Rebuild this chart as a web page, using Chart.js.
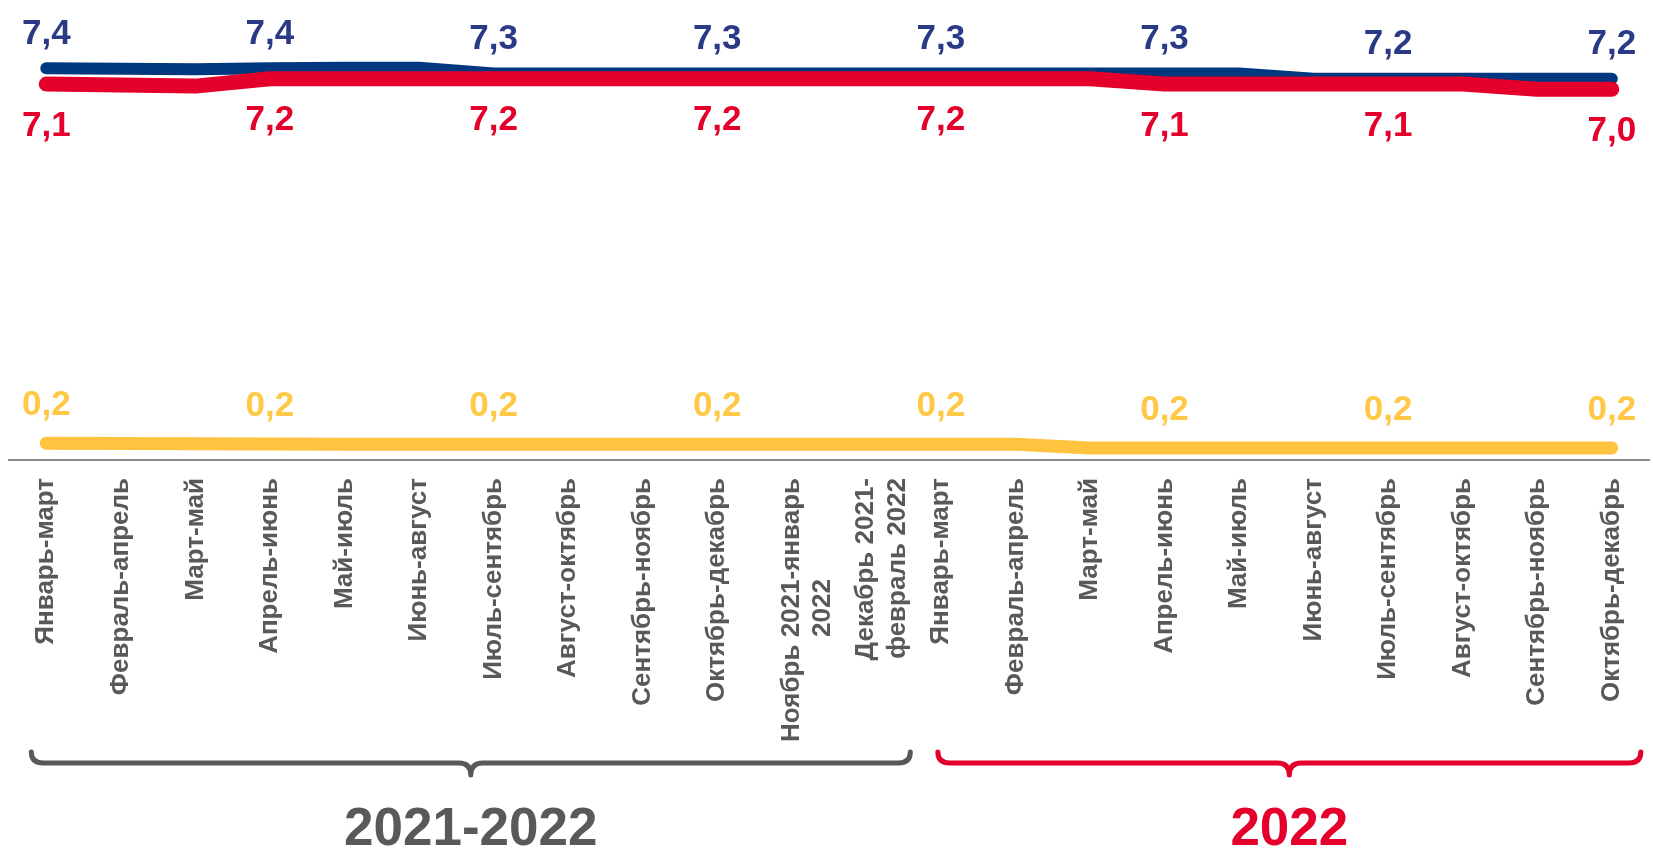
<!DOCTYPE html>
<html lang="ru">
<head>
<meta charset="utf-8">
<script src="https://cdn.jsdelivr.net/npm/chart.js@4.4.1/dist/chart.umd.min.js"></script>
<style>
  html, body { margin: 0; padding: 0; background: #fff; }
  #quadro { width: 1653px; height: 851px; position: relative; }
</style>
</head>
<body>
<div id="quadro"><canvas id="grafico"></canvas></div>
<script>
// Периоды (скользящие три месяца)
const periodos = [
  'Январь-март', 'Февраль-апрель', 'Март-май', 'Апрель-июнь', 'Май-июль', 'Июнь-август',
  'Июль-сентябрь', 'Август-октябрь', 'Сентябрь-ноябрь', 'Октябрь-декабрь',
  ['Ноябрь 2021-январь', '2022'], ['Декабрь 2021-', 'февраль 2022'],
  'Январь-март', 'Февраль-апрель', 'Март-май', 'Апрель-июнь', 'Май-июль', 'Июнь-август',
  'Июль-сентябрь', 'Август-октябрь', 'Сентябрь-ноябрь', 'Октябрь-декабрь'
];

const serieAzul = [7.38, 7.37, 7.36, 7.38, 7.39, 7.39, 7.28, 7.28, 7.28, 7.28, 7.28,
                   7.28, 7.28, 7.28, 7.28, 7.28, 7.28, 7.18, 7.18, 7.18, 7.18, 7.18];
const serieVermelha = [7.08, 7.06, 7.04, 7.18, 7.18, 7.18, 7.18, 7.18, 7.18, 7.18, 7.18,
                       7.18, 7.18, 7.18, 7.18, 7.08, 7.08, 7.08, 7.08, 7.08, 6.98, 6.98];
const serieAmarela = [0.24, 0.235, 0.23, 0.225, 0.22, 0.22, 0.22, 0.22, 0.22, 0.22, 0.22,
                      0.22, 0.22, 0.22, 0.15, 0.15, 0.15, 0.15, 0.15, 0.15, 0.15, 0.15];

// Группы периодов под осью
const grupos = ['2021-2022', '2022'];
const gruposInicio = [0, 12];
const gruposFim = [11, 21];

const passoRotulo = 3;
const fonte = '"Liberation Sans", Arial, sans-serif';
const cinza = '#595959';
const vermelho = '#E4002B';

function formatar(v) {
  return (Math.round(v * 10) / 10).toFixed(1).replace('.', ',');
}

// центрируем строки многострочной подписи (подпись повёрнута и выровнена по краю)
const medidor = document.createElement('canvas').getContext('2d');
medidor.font = 'bold 26px ' + fonte;
function centralizarLinhas(rotulo) {
  if (!Array.isArray(rotulo)) return rotulo;
  const larguras = rotulo.map(l => medidor.measureText(l).width);
  const maior = Math.max(...larguras);
  const espaco = medidor.measureText(' ').width;
  return rotulo.map((l, k) => l + ' '.repeat(Math.round((maior - larguras[k]) / 2 / espaco)));
}

const rotulosPlugin = {
  id: 'rotulos',
  afterDatasetsDraw(chart) {
    const ctx = chart.ctx;
    chart.data.datasets.forEach((ds, di) => {
      const meta = chart.getDatasetMeta(di);
      meta.data.forEach((pt, i) => {
        if (i % passoRotulo !== 0) return;
        ctx.save();
        ctx.font = 'bold 35px ' + fonte;
        ctx.fillStyle = ds.corRotulo;
        ctx.textAlign = 'center';
        ctx.textBaseline = 'middle';
        ctx.fillText(formatar(ds.data[i]), pt.x, pt.y + ds.deslocRotulo);
        ctx.restore();
      });
    });
  }
};

// фигурные скобки и годы под подписями оси
const margensChave = [[-15, 44], [-3, 29]];
const coresGrupo = [cinza, vermelho];

function chave(ctx, x0, x1, yTopo, yBarra, yPonta, r) {
  const xm = (x0 + x1) / 2;
  ctx.beginPath();
  ctx.moveTo(x0, yTopo);
  ctx.quadraticCurveTo(x0, yBarra, x0 + r, yBarra);
  ctx.lineTo(xm - r, yBarra);
  ctx.quadraticCurveTo(xm, yBarra, xm, yPonta);
  ctx.moveTo(xm, yPonta);
  ctx.quadraticCurveTo(xm, yBarra, xm + r, yBarra);
  ctx.lineTo(x1 - r, yBarra);
  ctx.quadraticCurveTo(x1, yBarra, x1, yTopo);
  ctx.stroke();
}

const chavesPlugin = {
  id: 'chaves',
  afterDraw(chart) {
    const ctx = chart.ctx;
    const x = chart.scales.x;
    grupos.forEach((g, k) => {
      const x0 = x.getPixelForValue(gruposInicio[k]) + margensChave[k][0];
      const x1 = x.getPixelForValue(gruposFim[k]) + margensChave[k][1];
      ctx.save();
      ctx.strokeStyle = coresGrupo[k];
      ctx.lineWidth = 5;
      ctx.lineCap = 'round';
      ctx.lineJoin = 'round';
      chave(ctx, x0, x1, 752, 763, 775, 12);
      ctx.fillStyle = coresGrupo[k];
      ctx.font = 'bold 53px ' + fonte;
      ctx.textAlign = 'center';
      ctx.textBaseline = 'middle';
      ctx.fillText(g, (x0 + x1) / 2, 830);
      ctx.restore();
    });
  }
};

new Chart(document.getElementById('grafico').getContext('2d'), {
  type: 'line',
  data: {
    labels: periodos,
    datasets: [
      {
        label: 'Синяя линия',
        data: serieAzul,
        borderColor: '#00387F',
        borderWidth: 12,
        corRotulo: '#2B3A87',
        deslocRotulo: -34,
        order: 1
      },
      {
        label: 'Красная линия',
        data: serieVermelha,
        borderColor: vermelho,
        borderWidth: 15,
        corRotulo: vermelho,
        deslocRotulo: 42,
        order: 0
      },
      {
        label: 'Жёлтая линия',
        data: serieAmarela,
        borderColor: '#FFC340',
        borderWidth: 13,
        corRotulo: '#FFC845',
        deslocRotulo: -38,
        order: 2
      }
    ]
  },
  options: {
    responsive: true,
    maintainAspectRatio: false,
    animation: false,
    layout: { padding: { left: 9, right: 0, top: 0, bottom: 0 } },
    elements: {
      point: { radius: 0, hoverRadius: 0 },
      line: { tension: 0, borderCapStyle: 'round', borderJoinStyle: 'round' }
    },
    plugins: {
      legend: { display: false },
      tooltip: { enabled: false },
      title: { display: false }
    },
    scales: {
      x: {
        offset: true,
        grid: { display: false },
        border: { display: true, color: '#8C8C8C', width: 2 },
        afterFit(scale) { scale.height = 391; },
        ticks: {
          autoSkip: false,
          minRotation: 90,
          maxRotation: 90,
          padding: 10,
          color: cinza,
          font: { family: fonte, size: 26, weight: 'bold', lineHeight: 1.2 },
          callback: function (valor) {
            return centralizarLinhas(this.getLabelForValue(valor));
          }
        }
      },
      y: {
        display: false,
        min: -0.08,
        max: 8.68
      }
    }
  },
  plugins: [rotulosPlugin, chavesPlugin]
});
</script>
</body>
</html>
